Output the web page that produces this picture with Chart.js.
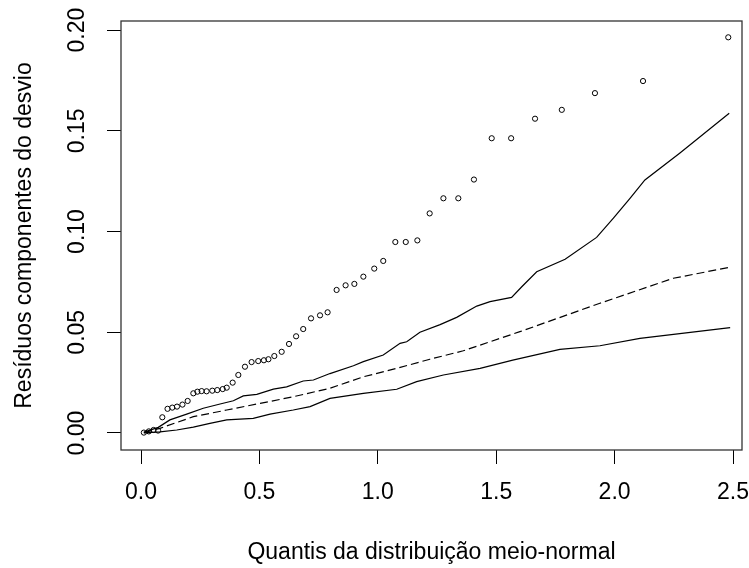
<!DOCTYPE html>
<html>
<head>
<meta charset="utf-8">
<script src="https://cdn.jsdelivr.net/npm/chart.js@4"></script>
<style>
  html, body { margin: 0; padding: 0; background: #fff; }
</style>
</head>
<body>
<canvas id="chart" width="749" height="568"></canvas>
<script>
// observed deviance residual components (half-normal plot)
const pointX = [0.012, 0.033, 0.053, 0.072, 0.090, 0.112, 0.132, 0.152, 0.175, 0.197,
  0.221, 0.238, 0.256, 0.277, 0.301, 0.322, 0.345, 0.362, 0.387, 0.411,
  0.439, 0.467, 0.495, 0.519, 0.538, 0.563, 0.594, 0.625, 0.655, 0.685,
  0.718, 0.756, 0.788, 0.826, 0.864, 0.901, 0.939, 0.985, 1.023, 1.074,
  1.118, 1.167, 1.219, 1.277, 1.340, 1.406, 1.481, 1.563, 1.664, 1.777,
  1.917, 2.120, 2.480];
const pointY = [0.0002, 0.0008, 0.0015, 0.0012, 0.0078, 0.0120, 0.0126, 0.0131, 0.0141, 0.0159,
  0.0197, 0.0205, 0.0208, 0.0207, 0.0210, 0.0213, 0.0218, 0.0225, 0.0250, 0.0288,
  0.0329, 0.0352, 0.0357, 0.0361, 0.0366, 0.0382, 0.0403, 0.0442, 0.0480, 0.0516,
  0.0569, 0.0584, 0.0599, 0.0710, 0.0733, 0.0740, 0.0776, 0.0816, 0.0854, 0.0948,
  0.0948, 0.0956, 0.1090, 0.1165, 0.1165, 0.1258, 0.1463, 0.1463, 0.1560, 0.1604,
  0.1687, 0.1747, 0.1964];

// simulated envelope: upper band
const upperX = [0.012, 0.073, 0.122, 0.193, 0.263, 0.334, 0.390, 0.432, 0.489, 0.559,
  0.615, 0.685, 0.728, 0.798, 0.897, 0.939, 1.023, 1.094, 1.122, 1.178,
  1.263, 1.333, 1.418, 1.474, 1.565, 1.608, 1.671, 1.791, 1.924, 1.995,
  2.065, 2.128, 2.276, 2.484];
const upperY = [0.0004, 0.0028, 0.0065, 0.0094, 0.0123, 0.0144, 0.0160, 0.0184, 0.0192, 0.0218,
  0.0229, 0.0258, 0.0263, 0.0295, 0.0334, 0.0354, 0.0387, 0.0445, 0.0453, 0.0500,
  0.0538, 0.0574, 0.0630, 0.0652, 0.0673, 0.0726, 0.0800, 0.0862, 0.0971, 0.1066,
  0.1165, 0.1256, 0.1390, 0.1587];

// mean of simulations (dashed)
const meanX = [0.012, 0.080, 0.221, 0.362, 0.503, 0.643, 0.798, 0.939, 1.080, 1.220,
  1.361, 1.600, 1.938, 2.248, 2.484];
const meanY = [0.0002, 0.0023, 0.0081, 0.0114, 0.0147, 0.0180, 0.0222, 0.0279, 0.0321, 0.0366,
  0.0408, 0.0503, 0.0644, 0.0768, 0.0822];

// lower band
const lowerX = [0.012, 0.080, 0.151, 0.221, 0.291, 0.362, 0.474, 0.545, 0.643, 0.714,
  0.798, 0.939, 1.080, 1.164, 1.277, 1.432, 1.570, 1.769, 1.938, 2.107, 2.488];
const lowerY = [0.0001, 0.0006, 0.0015, 0.0029, 0.0048, 0.0065, 0.0073, 0.0094, 0.0114, 0.0131,
  0.0172, 0.0197, 0.0217, 0.0255, 0.0288, 0.0321, 0.0362, 0.0415, 0.0433, 0.0470, 0.0523];

const xTicks = [0, 0.5, 1.0, 1.5, 2.0, 2.5];
const yTicks = [0, 0.05, 0.10, 0.15, 0.20];

const xTitle = 'Quantis da distribuição meio-normal';
const yTitle = 'Resíduos componentes do desvio';

function pairs(xs, ys) {
  return xs.map((x, i) => ({ x: x, y: ys[i] }));
}

const FONT = { family: '"Liberation Sans", Arial, sans-serif', size: 23 };

// R style closed box round the plot region
const boxPlugin = {
  id: 'box',
  afterDraw(chart) {
    const a = chart.chartArea;
    const ctx = chart.ctx;
    ctx.save();
    ctx.strokeStyle = '#333';
    ctx.lineWidth = 1.3;
    ctx.strokeRect(a.left, a.top, a.right - a.left, a.bottom - a.top);
    ctx.restore();
  }
};

const lineStyle = {
  showLine: true,
  pointRadius: 0,
  borderColor: '#000',
  borderWidth: 1.2,
  tension: 0,
  fill: false
};

new Chart(document.getElementById('chart').getContext('2d'), {
  type: 'scatter',
  data: {
    datasets: [
      {
        data: pairs(pointX, pointY),
        pointStyle: 'circle',
        pointRadius: 2.6,
        borderColor: '#000',
        borderWidth: 1,
        backgroundColor: 'rgba(0,0,0,0)'
      },
      Object.assign({ data: pairs(upperX, upperY) }, lineStyle),
      Object.assign({ data: pairs(meanX, meanY), borderDash: [8, 4] }, lineStyle),
      Object.assign({ data: pairs(lowerX, lowerY) }, lineStyle)
    ]
  },
  options: {
    responsive: false,
    animation: false,
    events: [],
    layout: { padding: { top: 21, right: 7, left: 0, bottom: 0 } },
    plugins: { legend: { display: false }, tooltip: { enabled: false } },
    scales: {
      x: {
        type: 'linear',
        position: 'bottom',
        min: -0.0845,
        max: 2.538,
        afterBuildTicks: s => { s.ticks = xTicks.map(v => ({ value: v })); },
        afterFit: s => { s.height = 118; s.paddingLeft = 0; s.paddingRight = 0; },
        grid: { drawOnChartArea: false, tickLength: 14, color: '#000', tickWidth: 1 },
        border: { display: false },
        ticks: {
          padding: 15,
          maxRotation: 0,
          minRotation: 0,
          color: '#000',
          font: FONT,
          callback: v => v.toFixed(1)
        },
        title: {
          display: true,
          text: xTitle,
          color: '#000',
          font: FONT,
          padding: { top: 0, bottom: 2 }
        }
      },
      y: {
        type: 'linear',
        position: 'left',
        min: -0.00844,
        max: 0.2045,
        afterBuildTicks: s => { s.ticks = yTicks.map(v => ({ value: v })); },
        afterFit: s => { s.width = 121; s.paddingTop = 0; s.paddingBottom = 0; },
        grid: { drawOnChartArea: false, tickLength: 14, color: '#000', tickWidth: 1 },
        border: { display: false },
        ticks: {
          padding: 7,
          minRotation: 90,
          maxRotation: 90,
          crossAlign: 'center',
          color: '#000',
          font: FONT,
          callback: v => v.toFixed(2)
        },
        title: {
          display: true,
          text: yTitle,
          color: '#000',
          font: FONT,
          padding: { top: 11, bottom: 0 }
        }
      }
    }
  },
  plugins: [boxPlugin]
});
</script>
</body>
</html>
